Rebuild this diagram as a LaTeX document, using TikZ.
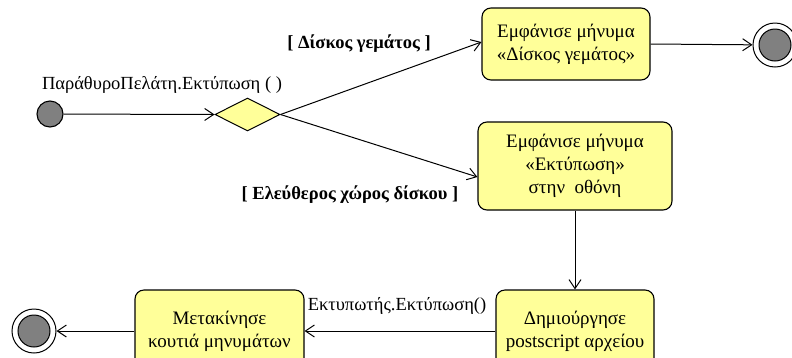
\documentclass[tikz,border=0pt]{standalone}
\usepackage{fontspec}
\setmainfont{Liberation Serif}
\usetikzlibrary{arrows.meta,shapes.geometric,calc}
\definecolor{boxfill}{RGB}{255,255,153}
\definecolor{dotgray}{RGB}{128,128,128}
\begin{document}
\begin{tikzpicture}[x=1pt,y=-1pt,
  act/.style={draw, line width=1.1pt, rounded corners=9pt, fill=boxfill, align=center, inner sep=0pt,
    font=\fontsize{19}{23}\selectfont},
  startdot/.style={circle, draw, line width=1.1pt, fill=dotgray, minimum size=26pt, inner sep=0pt},
  endring/.style={circle, draw, line width=1pt, fill=white, minimum size=44pt, inner sep=0pt},
  enddot/.style={circle, draw, line width=1pt, fill=dotgray, minimum size=32pt, inner sep=0pt},
  decision/.style={diamond, draw, line width=1pt, fill=boxfill, inner sep=0pt, minimum width=65pt, minimum height=33pt, aspect=2},
  flow/.style={draw, line width=1pt, -{Straight Barb[length=9pt,width=12pt,line width=1pt]}},
  lbl/.style={font=\fontsize{18.5}{20}\selectfont, inner sep=0pt},
  guard/.style={font=\fontsize{18.5}{20}\selectfont\bfseries, inner sep=0pt}
]
\useasboundingbox (0,0) rectangle (792,357);

\node[startdot] (start) at (50,114) {};
\node[decision] (dec) at (247.5,114.5) {};
\node[act, minimum width=168pt, minimum height=72pt] (box1) at (566,44) {Εμφάνισε μήνυμα\\«Δίσκος γεμάτος»};
\node[act, minimum width=194pt, minimum height=88pt] (box2) at (575,166) {Εμφάνισε μήνυμα\\«Εκτύπωση»\\στην\ \ οθόνη};
\node[act, minimum width=158pt, minimum height=82pt] (box3) at (575,331) {Δημιούργησε\\postscript αρχείου};
\node[act, minimum width=169pt, minimum height=82pt] (box4) at (219.5,331) {Μετακίνησε\\κουτιά μηνυμάτων};
\node[endring] (end1) at (775,45) {};
\node[enddot] at (end1) {};
\node[endring] (end2) at (34,331) {};
\node[enddot] at (end2) {};

\node[lbl] (l1) at (162,85) {ΠαράθυροΠελάτη.Εκτύπωση ( )};
\node[guard] (g1) at (359,44) {[ Δίσκος γεμάτος ]};
\node[guard] (g2) at (350,195) {[ Ελεύθερος χώρος δίσκου ]};
\node[lbl] (l2) at (397,306) {Εκτυπωτής.Εκτύπωση()};

\draw[flow] (start) -- (dec.west);
\draw[flow] (dec.east) -- ($(box1.west)+(0,-2)$);
\draw[flow] (dec.east) -- ($(box2.west)+(0,11)$);
\draw[flow] (box1.east) -- (end1);
\draw[flow] (box2.south) -- (box3.north);
\draw[flow] (box3.west) -- (box4.east);
\draw[flow] (box4.west) -- (end2);
\end{tikzpicture}
\end{document}
